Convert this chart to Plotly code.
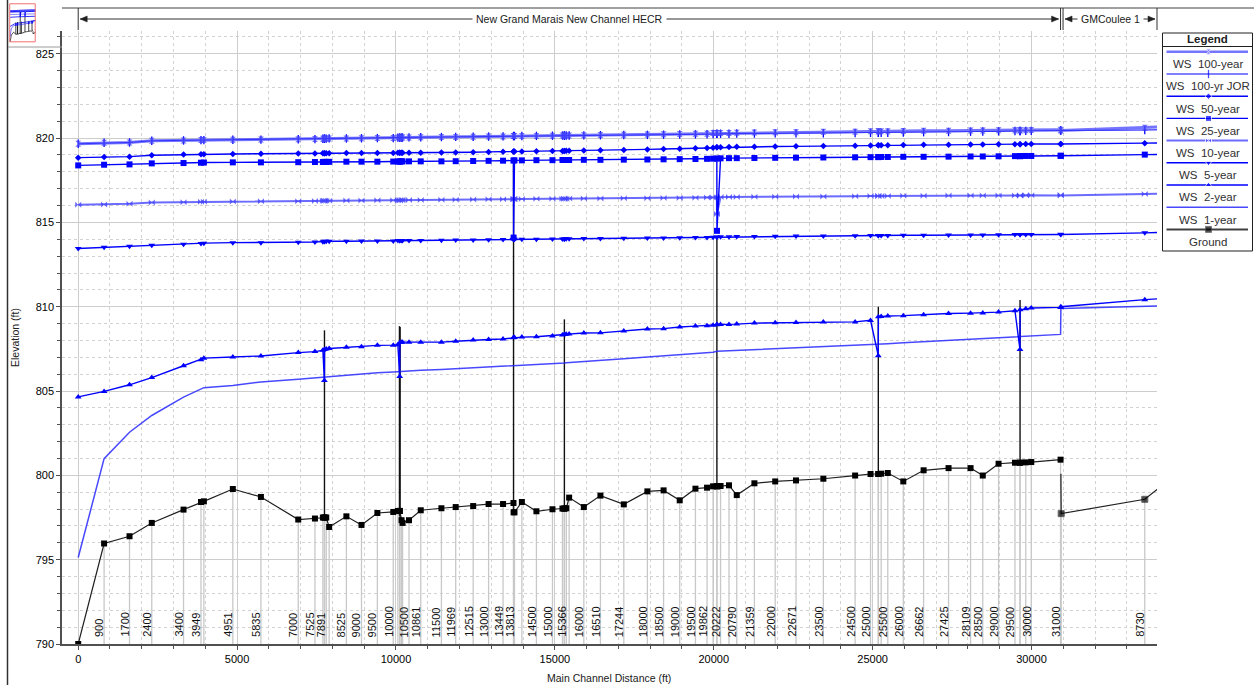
import plotly.graph_objects as go

W, H = 1254, 685

# ---------------- data ----------------
# Reach "New Grand Marais New Channel HECR"
xs_dist = [0, 815, 1615, 2315, 3315, 3864, 3955, 4866, 5750, 6925,
           7450, 7700, 7748, 7752, 7806, 7898, 8440, 8915, 9415, 9915,
           10060, 10118, 10122, 10176, 10208, 10410, 10780, 11430, 11880, 12430,
           12915, 13370, 13698, 13702, 13730, 13962, 14420, 14925, 15240, 15298,
           15302, 15360, 15450, 15912, 16435, 17170, 17912, 18422, 18930, 19425,
           19790, 19980, 20098, 20102, 20215, 20480, 20725, 21280, 21935, 22590,
           23450, 24450, 24935, 25178, 25182, 25270, 25478, 25966, 26605, 27390,
           28083, 28467, 28964, 29480, 29638, 29642, 29820, 29993, 30915]
xs_label = ['', '900', '1700', '2400', '3400', '3949', '', '4951', '5835', '7000',
            '7525', '', '', '', '7891', '', '8525', '9000', '9500', '10000',
            '', '', '', '', '', '10500', '10861', '11500', '11969', '12515',
            '13000', '13449', '', '', '13813', '', '14500', '15000', '', '',
            '', '15366', '', '16000', '16510', '17244', '18000', '18500', '19000', '19500',
            '19862', '', '', '', '20222', '', '20790', '21359', '22000', '22671',
            '23500', '24500', '25000', '', '', '', '25500', '26000', '26662', '27425',
            '28109', '28500', '29000', '29500', '', '', '', '30000', '31000']
ground = [790.0, 795.96, 796.39, 797.18, 797.97, 798.42, 798.46, 799.19, 798.72, 797.38,
          797.44, 797.5, 797.5, 797.5, 797.5, 796.94, 797.57, 797.06, 797.77, 797.83,
          797.89, 797.89, 797.89, 797.34, 797.18, 797.34, 797.93, 798.05, 798.12, 798.18,
          798.3, 798.3, 798.36, 797.81, 797.81, 798.42, 797.87, 797.99, 798.03, 798.03,
          798.03, 798.05, 798.68, 798.12, 798.8, 798.28, 799.05, 799.11, 798.52, 799.21,
          799.27, 799.35, 799.35, 799.35, 799.37, 799.41, 798.83, 799.53, 799.64, 799.7,
          799.8, 799.99, 800.08, 800.08, 800.08, 800.1, 800.14, 799.64, 800.3, 800.43,
          800.43, 799.99, 800.69, 800.75, 800.75, 800.75, 800.77, 800.79, 800.93]
ws_1yr = [795.13, 800.99, 802.56, 803.55, 804.64, 805.15, 805.2, 805.33, 805.54, 805.7,
          805.78, 805.83, 805.85, 805.86, 805.87, 805.88, 805.95, 806.02, 806.08, 806.13,
          806.15, 806.16, 806.17, 806.18, 806.18, 806.2, 806.23, 806.28, 806.32, 806.38,
          806.42, 806.46, 806.5, 806.5, 806.51, 806.53, 806.57, 806.62, 806.66, 806.67,
          806.67, 806.68, 806.69, 806.75, 806.82, 806.92, 807.02, 807.08, 807.14, 807.2,
          807.25, 807.3, 807.36, 807.36, 807.37, 807.39, 807.41, 807.45, 807.5, 807.55,
          807.6, 807.68, 807.72, 807.75, 807.75, 807.76, 807.8, 807.86, 807.92, 808.0,
          808.07, 808.1, 808.15, 808.2, 808.22, 808.22, 808.24, 808.26, 808.36]
ws_2yr = [804.65, 804.98, 805.37, 805.8, 806.5, 806.86, 806.95, 807.02, 807.08, 807.28,
          807.34, 807.42, 805.62, 807.46, 807.5, 807.52, 807.6, 807.63, 807.71, 807.72,
          807.75, 805.86, 807.88, 807.9, 807.9, 807.9, 807.89, 807.9, 807.95, 808.03,
          808.06, 808.09, 808.16, 808.18, 808.18, 808.2, 808.22, 808.27, 808.33, 808.35,
          808.36, 808.37, 808.38, 808.44, 808.45, 808.56, 808.68, 808.7, 808.8, 808.85,
          808.87, 808.9, 808.93, 808.95, 808.95, 808.95, 808.97, 809.03, 809.05, 809.06,
          809.09, 809.1, 809.19, 807.1, 809.4, 809.42, 809.45, 809.47, 809.53, 809.6,
          809.62, 809.63, 809.68, 809.76, 807.46, 809.82, 809.88, 809.92, 809.96]
ws_5yr = [813.45, 813.52, 813.58, 813.65, 813.7, 813.75, 813.77, 813.8, 813.8, 813.82,
          813.84, 813.86, 813.87, 813.88, 813.88, 813.88, 813.88, 813.89, 813.9, 813.9,
          813.92, 813.92, 813.93, 813.93, 813.93, 813.93, 813.93, 813.94, 813.95, 813.96,
          813.97, 813.98, 813.98, 814.0, 814.0, 814.0, 814.0, 814.01, 814.02, 814.02,
          814.02, 814.03, 814.03, 814.04, 814.05, 814.06, 814.07, 814.08, 814.09, 814.1,
          814.11, 814.12, 814.12, 814.14, 814.15, 814.15, 814.16, 814.17, 814.18, 814.19,
          814.2, 814.21, 814.22, 814.22, 814.23, 814.23, 814.23, 814.24, 814.24, 814.25,
          814.26, 814.26, 814.27, 814.28, 814.28, 814.28, 814.28, 814.28, 814.3]
ws_10yr = [816.04, 816.06, 816.1, 816.18, 816.2, 816.23, 816.23, 816.24, 816.25, 816.26,
           816.27, 816.28, 816.28, 816.29, 816.29, 816.29, 816.3, 816.3, 816.31, 816.31,
           816.32, 816.32, 816.32, 816.33, 816.33, 816.33, 816.33, 816.34, 816.35, 816.36,
           816.37, 816.38, 816.38, 816.39, 816.39, 816.39, 816.4, 816.4, 816.41, 816.41,
           816.41, 816.41, 816.42, 816.42, 816.42, 816.43, 816.43, 816.44, 816.45, 816.46,
           816.47, 816.48, 816.49, 815.5, 816.5, 816.51, 816.51, 816.52, 816.52, 816.53,
           816.54, 816.55, 816.56, 816.56, 816.57, 816.57, 816.57, 816.58, 816.58, 816.59,
           816.59, 816.59, 816.6, 816.6, 816.6, 816.6, 816.61, 816.61, 816.62]
ws_25yr = [818.38, 818.42, 818.44, 818.5, 818.52, 818.54, 818.55, 818.56, 818.56, 818.57,
           818.58, 818.58, 818.58, 818.59, 818.59, 818.59, 818.6, 818.6, 818.6, 818.61,
           818.61, 818.61, 818.61, 818.62, 818.62, 818.62, 818.62, 818.62, 818.63, 818.64,
           818.65, 818.66, 818.67, 814.1, 818.68, 818.68, 818.69, 818.69, 818.7, 818.7,
           818.7, 818.7, 818.7, 818.71, 818.71, 818.72, 818.73, 818.74, 818.75, 818.76,
           818.77, 818.78, 818.79, 814.5, 818.8, 818.81, 818.81, 818.82, 818.83, 818.84,
           818.85, 818.86, 818.87, 818.87, 818.88, 818.88, 818.88, 818.89, 818.89, 818.9,
           818.91, 818.91, 818.92, 818.93, 818.93, 818.93, 818.94, 818.94, 818.95]
ws_50yr = [818.84, 818.88, 818.9, 818.98, 819.02, 819.04, 819.04, 819.06, 819.07, 819.08,
           819.09, 819.1, 819.1, 819.1, 819.1, 819.1, 819.11, 819.11, 819.12, 819.12,
           819.13, 819.13, 819.13, 819.13, 819.13, 819.13, 819.13, 819.14, 819.15, 819.16,
           819.18, 819.19, 819.2, 819.2, 819.21, 819.21, 819.22, 819.23, 819.24, 819.24,
           819.24, 819.25, 819.25, 819.26, 819.28, 819.3, 819.33, 819.35, 819.37, 819.39,
           819.41, 819.43, 819.45, 819.46, 819.46, 819.47, 819.48, 819.49, 819.5, 819.51,
           819.53, 819.55, 819.56, 819.57, 819.57, 819.58, 819.58, 819.59, 819.6, 819.61,
           819.62, 819.62, 819.63, 819.64, 819.64, 819.64, 819.65, 819.65, 819.65]
ws_100yr = [819.66, 819.72, 819.74, 819.84, 819.86, 819.88, 819.88, 819.9, 819.91, 819.93,
            819.94, 819.96, 819.96, 819.97, 819.97, 819.98, 819.98, 819.99, 820.0, 820.0,
            820.03, 820.03, 820.03, 820.03, 820.03, 820.04, 820.05, 820.06, 820.07, 820.08,
            820.09, 820.1, 820.12, 820.12, 820.12, 820.12, 820.13, 820.14, 820.16, 820.16,
            820.16, 820.16, 820.16, 820.17, 820.18, 820.2, 820.22, 820.23, 820.24, 820.25,
            820.26, 820.3, 820.3, 820.3, 820.3, 820.3, 820.31, 820.33, 820.34, 820.35,
            820.37, 820.38, 820.4, 820.4, 820.4, 820.4, 820.41, 820.42, 820.43, 820.44,
            820.45, 820.45, 820.46, 820.47, 820.47, 820.47, 820.47, 820.48, 820.5]
ws_100jor = [819.66, 819.72, 819.74, 819.84, 819.86, 819.88, 819.88, 819.9, 819.91, 819.93,
             819.94, 819.96, 819.96, 819.97, 819.97, 819.98, 819.98, 819.99, 820.0, 820.0,
             820.03, 820.03, 820.03, 820.03, 820.03, 820.04, 820.05, 820.06, 820.07, 820.08,
             820.09, 820.1, 820.12, 820.12, 820.12, 820.12, 820.13, 820.14, 820.15, 820.15,
             820.15, 820.15, 820.15, 820.16, 820.17, 820.18, 820.19, 820.2, 820.21, 820.22,
             820.23, 820.24, 820.25, 820.26, 820.26, 820.26, 820.27, 820.27, 820.28, 820.28,
             820.29, 820.3, 820.31, 820.31, 820.31, 820.31, 820.32, 820.33, 820.35, 820.36,
             820.38, 820.39, 820.4, 820.42, 820.42, 820.42, 820.43, 820.43, 820.45]

# Reach "GMCoulee 1"
gm_dist = [30925, 33565, 34400]
gm_label = ['', '8730', '']
gm_ws_1yr = [809.9, 810.03, 810.07]
gm_ws_2yr = [810.0, 810.42, 810.52]
gm_ws_5yr = [814.28, 814.38, 814.42]
gm_ws_10yr = [816.6, 816.69, 816.72]
gm_ws_25yr = [818.95, 819.02, 819.04]
gm_ws_50yr = [819.65, 819.7, 819.72]
gm_ws_100yr = [820.45, 820.62, 820.68]
gm_ws_100jor = [820.45, 820.48, 820.5]
gm_ground_dist = [30925, 30935, 33565, 34300]
gm_ground = [800.1, 797.73, 798.58, 799.7]

# Hydraulic structures (vertical lines from ground to top)
struct_dist = [7750, 10110, 10130, 13700, 15300, 20100, 25180, 29640]
struct_bottom = [797.5, 797.6, 797.3, 797.81, 798.03, 799.35, 800.08, 800.75]
struct_top = [808.6, 808.85, 808.8, 818.5, 809.25, 814.0, 810.0, 810.4]

junction_dist = 30915
reach_names = ['New Grand Marais New Channel HECR', 'GMCoulee 1']

X_RANGE = [-510, 33950]
Y_RANGE = [790, 826.35]

# ---------------- styling ----------------
FONT = 'Liberation Sans, Arial, sans-serif'
BLUE = '#0000ff'
profiles = [
    # name, main, gm, color, width, symbol, size
    ('WS  100-year', ws_100yr, gm_ws_100yr, 'rgba(70,70,255,0.75)', 3.0, 'hourglass', 6),
    ('WS  100-yr JOR', ws_100jor, gm_ws_100jor, BLUE, 1.0, 'line-ns', 6),
    ('WS  50-year', ws_50yr, gm_ws_50yr, BLUE, 1.4, 'diamond', 5),
    ('WS  25-year', ws_25yr, gm_ws_25yr, BLUE, 1.4, 'square', 6),
    ('WS  10-year', ws_10yr, gm_ws_10yr, 'rgba(70,70,255,0.8)', 2.0, 'bowtie', 6),
    ('WS  5-year', ws_5yr, gm_ws_5yr, BLUE, 1.4, 'triangle-down', 6),
    ('WS  2-year', ws_2yr, gm_ws_2yr, BLUE, 1.4, 'triangle-up', 6),
    ('WS  1-year', ws_1yr, gm_ws_1yr, 'rgba(40,40,255,0.85)', 1.5, None, 0),
]

fig = go.Figure()


def add_profile_traces(xa, ya, mini):
    # station lines (cross-section locations) from the bottom up to the ground
    if not mini:
        sx, sy = [], []
        for d, g in zip(xs_dist + gm_ground_dist[1:], ground + gm_ground[1:]):
            sx += [d, d, None]
            sy += [Y_RANGE[0], g, None]
        fig.add_trace(go.Scatter(x=sx, y=sy, mode='lines', xaxis=xa, yaxis=ya,
                                 line=dict(color='#c8c8c8', width=1.3), hoverinfo='skip'))
    # structures
    bx, by = [], []
    for d, b, t in zip(struct_dist, struct_bottom, struct_top):
        bx += [d, d, None]
        by += [b, t, None]
    fig.add_trace(go.Scatter(x=bx, y=by, mode='lines', xaxis=xa, yaxis=ya,
                             line=dict(color='#101010', width=0.8 if mini else 1.4), hoverinfo='skip'))
    # ground
    fig.add_trace(go.Scatter(x=xs_dist, y=ground, mode='lines' if mini else 'lines+markers',
                             xaxis=xa, yaxis=ya, name='Ground',
                             line=dict(color='#202020', width=0.8 if mini else 1.2),
                             marker=dict(symbol='square', size=6, color='black')))
    fig.add_trace(go.Scatter(x=gm_ground_dist, y=gm_ground, mode='lines' if mini else 'lines+markers',
                             xaxis=xa, yaxis=ya, name='Ground',
                             line=dict(color='#202020', width=0.8 if mini else 1.2),
                             marker=dict(symbol='square', size=[0, 6, 6, 6], color='black')))
    # water surfaces
    for name, main, gm, col, wdt, sym, sz in reversed(profiles):
        mode = 'lines' if (mini or sym is None) else 'lines+markers'
        mk = dict(symbol=sym or 'circle', size=sz, color=col)
        if sym == 'line-ns':
            mk['line'] = dict(width=1.3, color=col)
        fig.add_trace(go.Scatter(x=xs_dist + gm_dist, y=main + gm, mode=mode, name=name,
                                 xaxis=xa, yaxis=ya,
                                 line=dict(color=col, width=0.8 if mini else wdt), marker=mk))


add_profile_traces('x', 'y', False)
add_profile_traces('x2', 'y2', True)


def P(px):
    return px / W


def Q(py):
    return 1 - py / H


PLOT_L, PLOT_R, PLOT_T, PLOT_B = 62, 1157, 31, 644


def dpx(d):
    return PLOT_L + (d - X_RANGE[0]) / (X_RANGE[1] - X_RANGE[0]) * (PLOT_R - PLOT_L)


grid_dash = '3px,3px'
fig.update_layout(
    width=W, height=H, autosize=False,
    margin=dict(l=0, r=0, t=0, b=0, autoexpand=False),
    paper_bgcolor='white', plot_bgcolor='white',
    showlegend=False,
    font=dict(family=FONT, size=11, color='black'),
    xaxis=dict(domain=[P(PLOT_L), P(PLOT_R)], range=X_RANGE, tick0=0, dtick=5000, tickformat='d',
               showgrid=True, gridcolor='#cdcdcd', gridwidth=1.2, zeroline=False,
               showline=True, linecolor='#505050', linewidth=1.5, automargin=False,
               ticks='outside', ticklen=4, tickcolor='#505050',
               tickfont=dict(size=11, family=FONT, color='black'),
               minor=dict(dtick=1000, tick0=0, showgrid=True, gridcolor='#d2d2d2',
                          griddash=grid_dash, gridwidth=1, ticks='outside', ticklen=3,
                          tickcolor='#505050')),
    yaxis=dict(domain=[Q(PLOT_B), Q(PLOT_T)], range=Y_RANGE, tick0=790, dtick=5, tickformat='d',
               showgrid=True, gridcolor='#cdcdcd', gridwidth=1.2, zeroline=False,
               showline=True, linecolor='#505050', linewidth=1.5, automargin=False,
               ticks='outside', ticklen=4, tickcolor='#505050',
               tickfont=dict(size=11, family=FONT, color='black'),
               minor=dict(dtick=1, tick0=790, showgrid=True, gridcolor='#d2d2d2',
                          griddash=grid_dash, gridwidth=1, ticks='outside', ticklen=3,
                          tickcolor='#505050')),
    xaxis2=dict(domain=[P(9), P(60)], range=[-1500, 67500], visible=False, fixedrange=True),
    yaxis2=dict(domain=[Q(46), Q(1)], range=[786, 829], visible=False, fixedrange=True),
    xaxis3=dict(domain=[P(1160), P(1254)], range=[1160, 1254], visible=False, anchor='y3'),
    yaxis3=dict(domain=[Q(253), Q(32)], range=[253, 32], visible=False, anchor='x3'),
)

shapes = []
annotations = []


def pnote(x, y, text, size=10.5, color='#202020', angle=0, **kw):
    d = dict(xref='paper', yref='paper', x=P(x), y=Q(y), text=text, showarrow=False,
             xanchor='center', yanchor='middle', textangle=angle,
             font=dict(size=size, color=color, family=FONT))
    d.update(kw)
    annotations.append(d)


# frame and thumbnail
shapes.append(dict(type='line', xref='paper', yref='paper', x0=P(62), x1=P(1254), y0=Q(8), y1=Q(8),
                   line=dict(color='#404040', width=1)))
shapes.append(dict(type='line', xref='paper', yref='paper', x0=P(7.5), x1=P(7.5), y0=Q(0), y1=Q(685),
                   line=dict(color='#303030', width=1.5)))
shapes.append(dict(type='line', xref='paper', yref='paper', x0=P(8), x1=P(62), y0=Q(47), y1=Q(47),
                   line=dict(color='#9a9a9a', width=1)))
shapes.append(dict(type='rect', xref='x2', yref='y2', x0=X_RANGE[0], x1=X_RANGE[1],
                   y0=Y_RANGE[0], y1=Y_RANGE[1], line=dict(color='#f07070', width=1)))

# reach band
xa0 = dpx(0)
xj = dpx(junction_dist)
xe = dpx(X_RANGE[1])
band_top, band_bot, band_mid = 8, 30, 19
for xv in [xa0, xj, xj + 2.5, xe]:
    shapes.append(dict(type='line', xref='paper', yref='paper', x0=P(xv), x1=P(xv),
                       y0=Q(band_top), y1=Q(band_bot), line=dict(color='#303030', width=1)))


def arrow(x0, x1):
    shapes.append(dict(type='line', xref='paper', yref='paper', x0=P(x0), x1=P(x1),
                       y0=Q(band_mid), y1=Q(band_mid), line=dict(color='#303030', width=1)))
    for tip, back in [(x0, x0 + 7), (x1, x1 - 7)]:
        shapes.append(dict(type='path', xref='paper', yref='paper',
                           path=f'M {P(tip)} {Q(band_mid)} L {P(back)} {Q(band_mid - 3)} '
                                f'L {P(back)} {Q(band_mid + 3)} Z',
                           fillcolor='#202020', line=dict(color='#202020', width=0.5)))


arrow(xa0 + 2, xj - 2)
arrow(xj + 4.5, xe - 2)
pnote((xa0 + xj) / 2, band_mid, reach_names[0], bgcolor='white', borderpad=3)
pnote((xj + 2.5 + xe) / 2, band_mid, reach_names[1], bgcolor='white', borderpad=3)

# station labels
for d, lab in list(zip(xs_dist, xs_label)) + list(zip(gm_dist, gm_label)):
    if lab:
        annotations.append(dict(x=d, y=Y_RANGE[0], xref='x', yref='y', text=lab, textangle=-90,
                                showarrow=False, xanchor='center', yanchor='bottom',
                                xshift=-5, yshift=5,
                                font=dict(size=11, color='#101010', family=FONT)))

# axis titles
pnote(15, 338, 'Elevation (ft)', angle=-90)
pnote(609, 678, 'Main Channel Distance (ft)')

# legend (drawn as a HEC-RAS style box)
LX0, LX1, LY0, LY1 = 1162.5, 1252.5, 33, 251
shapes.append(dict(type='rect', xref='paper', yref='paper', x0=P(LX0), x1=P(LX1), y0=Q(LY1), y1=Q(LY0),
                   line=dict(color='#202020', width=1), fillcolor='rgba(0,0,0,0)'))
shapes.append(dict(type='line', xref='paper', yref='paper', x0=P(LX0), x1=P(LX1), y0=Q(46.5), y1=Q(46.5),
                   line=dict(color='#202020', width=1)))
pnote((LX0 + LX1) / 2, 39.5, '<b>Legend</b>', size=11.5)
legend_items = [(p[0], p[3], p[4], p[5], p[6]) for p in profiles] + [('Ground', '#404040', 2.0, 'square', 6)]
step = 22.2
for i, (name, col, wdt, sym, sz) in enumerate(legend_items):
    ly = 51.8 + step * i
    ty = 64.3 + step * i
    mk = dict(symbol=sym or 'circle', size=[0, sz, 0], color='black' if name == 'Ground' else col)
    if sym == 'line-ns':
        mk['line'] = dict(width=1.3, color=col)
    fig.add_trace(go.Scatter(x=[1166.5, 1208.5, 1248], y=[ly, ly, ly], xaxis='x3', yaxis='y3',
                             mode='lines+markers' if sym else 'lines',
                             line=dict(color=col, width=min(wdt, 2.5)), marker=mk, hoverinfo='skip'))
    pnote(1208, ty, name.replace('  ', '\u00a0 '), size=11.5, color='#303030')

fig.update_layout(shapes=shapes, annotations=annotations)
fig.write_html('out.html', config={'displayModeBar': False},
               post_script="document.body.style.margin='0px';document.body.style.padding='0px';")
